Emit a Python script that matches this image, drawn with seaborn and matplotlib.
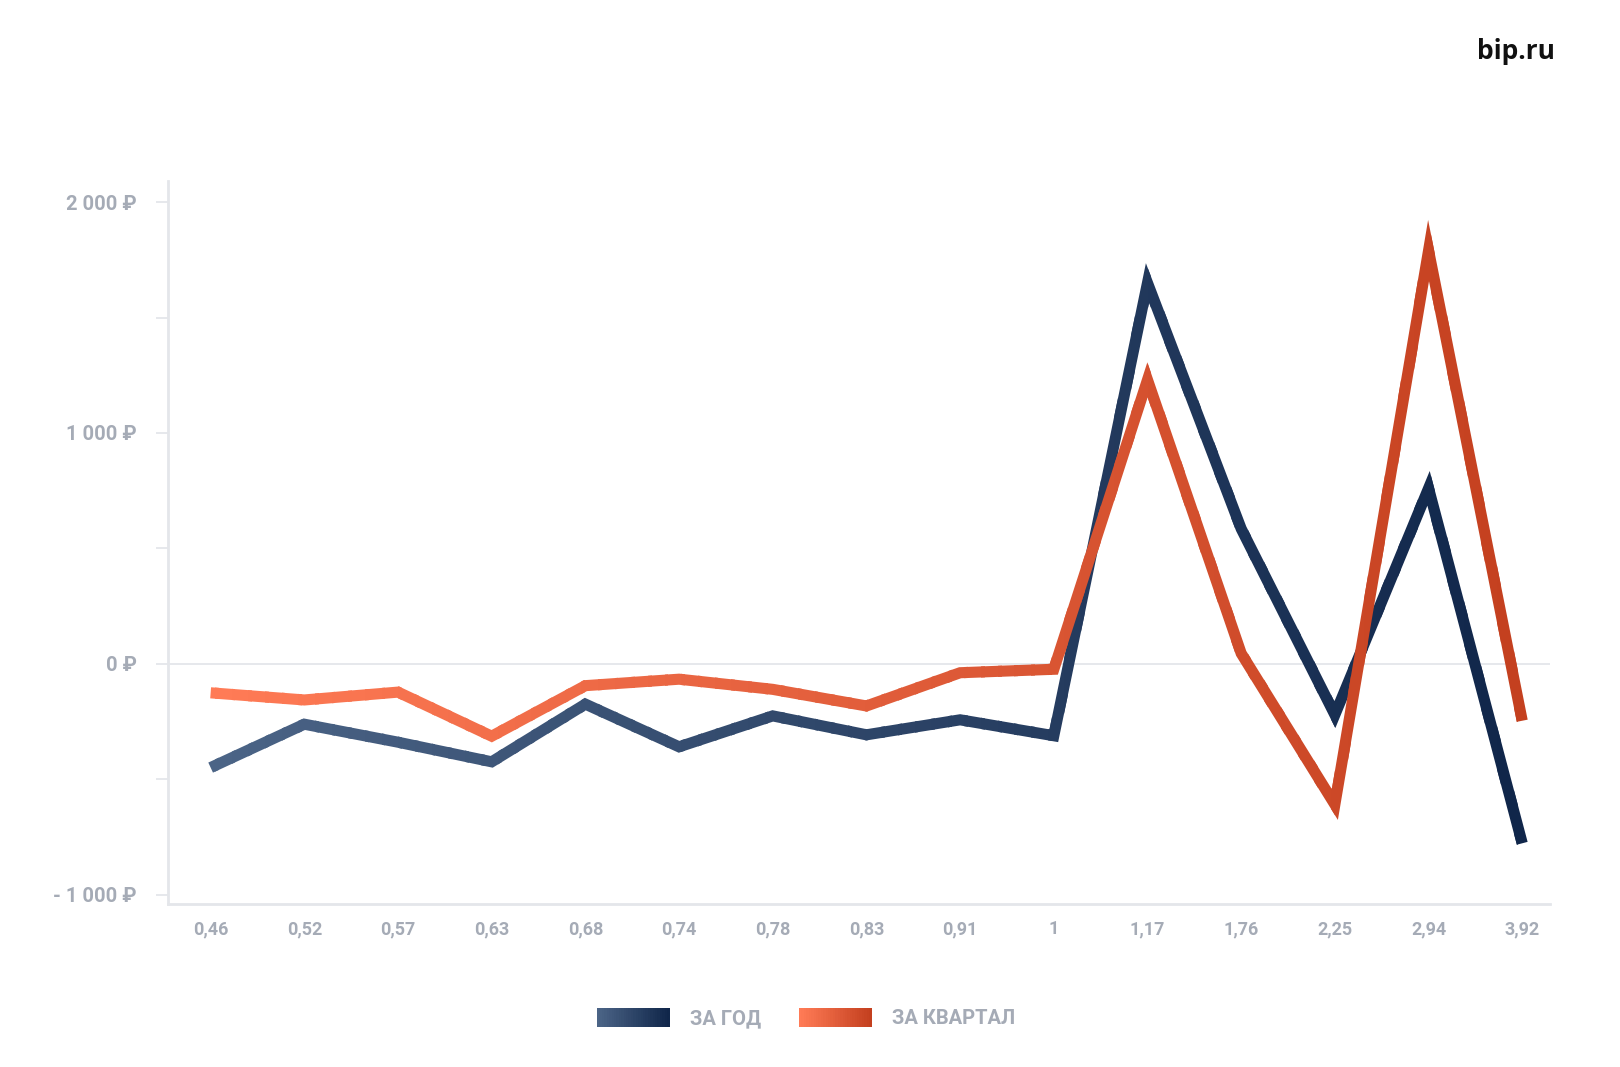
import matplotlib
matplotlib.use("Agg")
import matplotlib.pyplot as plt
import numpy as np
import pandas as pd
import seaborn as sns
from matplotlib.colors import LinearSegmentedColormap
from matplotlib.legend_handler import HandlerBase
from matplotlib.patches import Rectangle

ratios = ["0,46", "0,52", "0,57", "0,63", "0,68", "0,74", "0,78", "0,83",
          "0,91", "1", "1,17", "1,76", "2,25", "2,94", "3,92"]
year_values = [-450, -262, -340, -425, -175, -360, -226, -308,
               -243, -312, 1650, 585, -221, 760, -778]
quarter_values = [-126, -157, -123, -314, -95, -67, -111, -183,
                  -39, -24, 1230, 45, -610, 1790, -247]
series_names = ["ЗА ГОД", "ЗА КВАРТАЛ"]
y_ticks = [-1000, 0, 1000, 2000]
y_tick_labels = ["- 1 000 ₽", "0 ₽", "1 000 ₽", "2 000 ₽"]
y_minor = [-500, 500, 1500]

blue_cmap = LinearSegmentedColormap.from_list("blue", ["#4b6486", "#10264a"])
orange_cmap = LinearSegmentedColormap.from_list("orange", ["#ff7b56", "#c4401f"])
cmaps = {series_names[0]: blue_cmap, series_names[1]: orange_cmap}

GRAY = "#a5abb6"
LINE_GRAY = "#e4e6ea"

sns.set_theme(style="white")
plt.rcParams["font.family"] = ["Roboto", "DejaVu Sans"]

n = len(ratios)
df = pd.DataFrame({
    "pos": list(range(n)) * 2,
    "value": year_values + quarter_values,
    "series": [series_names[0]] * n + [series_names[1]] * n,
})

fig = plt.figure(figsize=(16.2, 10.67), dpi=100)
ax = fig.add_axes([0.104, 0.153, 0.853, 0.677])

sns.lineplot(data=df, x="pos", y="value", hue="series",
             palette={series_names[0]: "#2c4468", series_names[1]: "#e2603c"},
             linewidth=8, legend=False, ax=ax)

ax.set_xlim(-0.45, 14.3)
ax.set_ylim(-1040, 2090)

# gradient along x: redraw every line in narrow clipped vertical bands
n_bands = 90
lo, hi = -1.0, n
w = (hi - lo) / n_bands
for z, line in zip([2, 3], list(ax.lines)):
    name = series_names[0] if z == 2 else series_names[1]
    cmap = cmaps[name]
    xs, ys = line.get_xdata(), line.get_ydata()
    line.set_visible(False)
    for k in range(n_bands):
        x0 = lo + k * w
        t = np.clip((x0 + w / 2) / (n - 1), 0, 1)
        seg, = ax.plot(xs, ys, color=cmap(t), lw=8, zorder=z,
                       solid_joinstyle="miter", solid_capstyle="butt")
        clip = Rectangle((x0 - 0.02, -1e5), w + 0.04, 2e5, transform=ax.transData)
        seg.set_clip_path(clip)

ax.axhline(0, color=LINE_GRAY, lw=1.3, zorder=1)

for side in ["top", "right"]:
    ax.spines[side].set_visible(False)
for side in ["left", "bottom"]:
    ax.spines[side].set_color(LINE_GRAY)
    ax.spines[side].set_linewidth(2)

ax.set_xticks(range(n))
ax.set_xticklabels(ratios)
ax.set_yticks(y_ticks)
ax.set_yticklabels(y_tick_labels)
ax.set_yticks(y_minor, minor=True)
ax.tick_params(axis="x", length=0, pad=12, labelsize=13, labelcolor=GRAY)
ax.tick_params(axis="y", which="both", left=True, length=9, width=1.3,
               color=LINE_GRAY, direction="out", pad=14,
               labelsize=14.5, labelcolor=GRAY)
for lab in ax.get_xticklabels() + ax.get_yticklabels():
    lab.set_fontweight("bold")
ax.set_xlabel("")
ax.set_ylabel("")
ax.grid(False)


class GradientKey:
    def __init__(self, cmap):
        self.cmap = cmap


class GradientHandler(HandlerBase):
    def create_artists(self, legend, orig_handle, xdescent, ydescent,
                       width, height, fontsize, trans):
        steps = 30
        sw = width / steps
        rects = []
        for i in range(steps):
            r = Rectangle((-xdescent + i * sw, -ydescent), sw * 1.05, height,
                          facecolor=orig_handle.cmap(i / (steps - 1)),
                          edgecolor="none", transform=trans)
            rects.append(r)
        return rects


keys = [GradientKey(cmaps[s]) for s in series_names]
leg = fig.legend(keys, series_names,
                 handler_map={GradientKey: GradientHandler()},
                 loc="center", bbox_to_anchor=(0.4975, 0.046), ncol=2,
                 frameon=False, handlelength=3.6, handleheight=1.1,
                 handletextpad=1.0, columnspacing=1.9,
                 prop={"size": 14.5, "weight": "bold"})
for txt in leg.get_texts():
    txt.set_color(GRAY)

fig.text(0.936, 0.952, "bip.ru", ha="center", va="center", fontsize=19,
         fontweight="bold", color="#111111", family=["Open Sans", "DejaVu Sans"])

fig.savefig("out.png", dpi=100, facecolor="white")
